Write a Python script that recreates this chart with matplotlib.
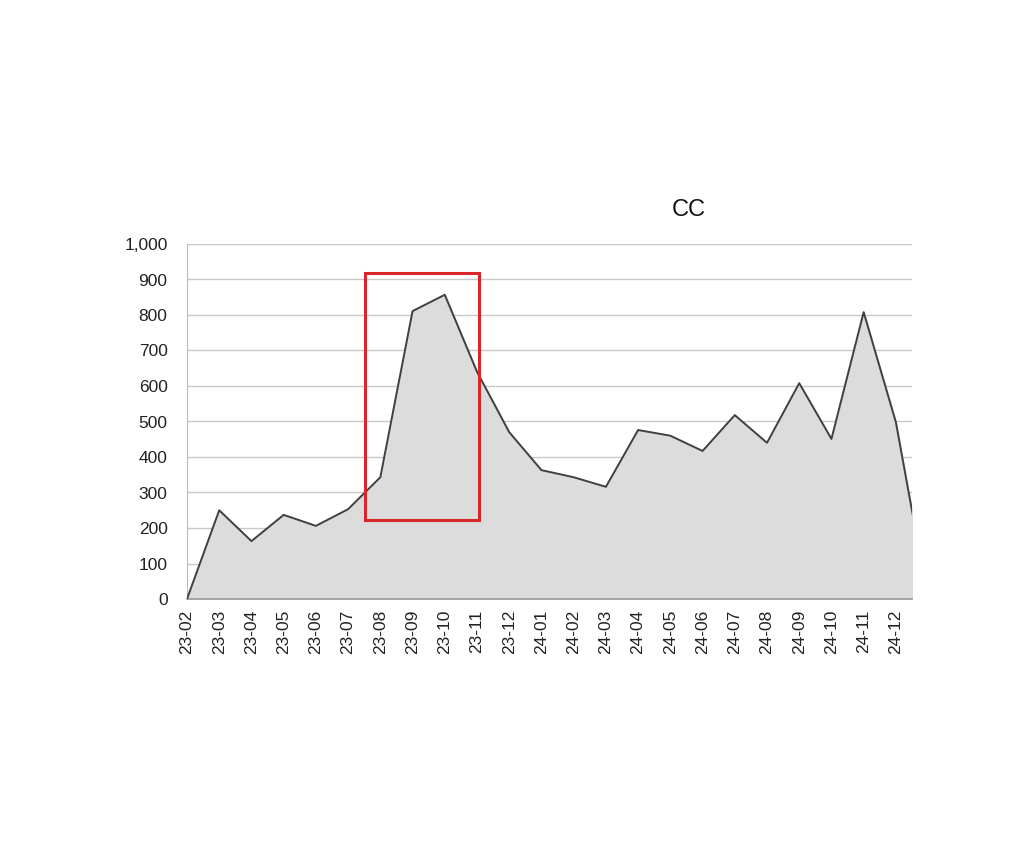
import numpy as np
import matplotlib.pyplot as plt
from matplotlib.patches import Rectangle

plt.rcParams['font.family'] = ['Liberation Sans', 'DejaVu Sans']

months = ["23-02", "23-03", "23-04", "23-05", "23-06", "23-07", "23-08", "23-09",
          "23-10", "23-11", "23-12", "24-01", "24-02", "24-03", "24-04", "24-05",
          "24-06", "24-07", "24-08", "24-09", "24-10", "24-11", "24-12", "25-01"]
values = [0, 250, 163, 237, 206, 253, 343, 811,
          857, 640, 470, 363, 343, 316, 476, 460,
          417, 518, 440, 608, 451, 808, 498, 0]
shown_labels = months[:-1]

# highlighted region (index range, value range)
box_x = (5.52, 9.05)
box_y = (222, 918)

fig = plt.figure(figsize=(10.24, 8.63), dpi=100)
ax = fig.add_axes([187 / 1024, 1 - 599 / 863, (912 - 187) / 1024, (599 - 244) / 863])

x = np.arange(len(values))
ax.fill_between(x, values, 0, color="#dcdcdc", zorder=2)
ax.plot(x, values, color="#404040", linewidth=1.4, zorder=3)

ax.set_xlim(0, 22.5)
ax.set_ylim(0, 1000)
ax.set_yticks(np.arange(0, 1001, 100))
ax.set_yticklabels([f"{v:,}" for v in range(0, 1001, 100)])
ax.set_xticks(np.arange(len(shown_labels)))
ax.set_xticklabels(shown_labels, rotation=90)
ax.tick_params(axis="y", length=0, pad=14, labelsize=12.5, labelcolor="#222222")
ax.tick_params(axis="x", length=0, pad=8, labelsize=12.5, labelcolor="#222222")

ax.grid(axis="y", color="#c8c8c8", linewidth=1.0, zorder=1)
ax.set_axisbelow(True)
for s in ["top", "right"]:
    ax.spines[s].set_visible(False)
ax.spines["left"].set_color("#bbbbbb")
ax.spines["bottom"].set_color("#999999")
ax.spines["bottom"].set_linewidth(1.2)

rect = Rectangle((box_x[0], box_y[0]), box_x[1] - box_x[0], box_y[1] - box_y[0],
                 fill=False, edgecolor="#d9262b", linewidth=2.2, zorder=5, clip_on=False)
ax.add_patch(rect)

fig.text(689 / 1024, 1 - 210 / 863, "CC", ha="center", va="center", fontsize=17, color="#111111")

fig.savefig("out.png", dpi=100)
